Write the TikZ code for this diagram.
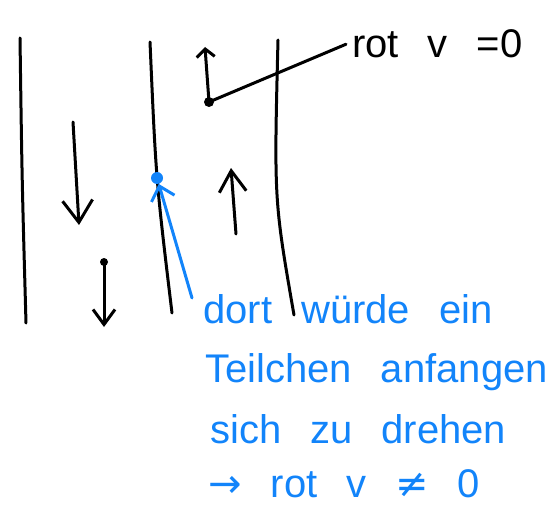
\documentclass[tikz,border=0pt]{standalone}
\usepackage{fontspec}
\setmainfont{Liberation Sans}
\newfontfamily\symfont{DejaVu Sans}
\usetikzlibrary{arrows.meta}
\definecolor{penblue}{RGB}{18,132,250}
\newcommand{\breit}{\spaceskip29pt\relax}
\tikzset{
  stift/.style={line width=3pt, line cap=round, line join=round},
  schrift/.style={anchor=base west, inner sep=0pt,
    font=\fontsize{40}{48}\selectfont, execute at begin node=\breit},
}
\begin{document}
\begin{tikzpicture}[x=1pt, y=-1pt, >={Straight Barb[length=22pt,width=30pt]}]
  \useasboundingbox (0,0) rectangle (559,508);
  % Stromlinien
  \draw[stift] (20,38) .. controls (22,180) .. (26,323);
  \draw[stift] (150,42) .. controls (156,180) .. (172,313);
  \draw[stift] (278,40) .. controls (274,200) .. (294,315);
  % Geschwindigkeiten
  \draw[stift, ->] (73,122) -- (79,225);
  \fill (104,262) circle (4pt);
  \draw[stift, ->, >={Straight Barb[length=15pt,width=22pt]}] (104,262) -- (104,327);
  \draw[stift, ->, >={Straight Barb[length=21pt,width=27pt]}] (236,234) -- (231,168);
  \draw[stift, ->, >={Straight Barb[length=8pt,width=18pt]}] (209,102) -- (205,47);
  % rot v = 0
  \node[schrift] (rotnull) at (352,58) {rot v =0};
  \fill (209,102) circle (5pt);
  \coordinate (ecke) at (209,102);
  \draw[stift] (ecke) -- ([xshift=-6pt]rotnull.west);
  % Teilchen
  \node[circle, fill=penblue, inner sep=0pt, minimum size=12pt] (teilchen) at (157,178) {};
  \node[schrift, penblue] (zeile1) at (203,323) {dort würde ein};
  \node[schrift, penblue] (zeile2) at (205,382) {Teilchen anfangen};
  \node[schrift, penblue] (zeile3) at (210,443) {sich zu drehen};
  \node[schrift, penblue] (zeile4) at (208,497) {{\symfont →} rot v {\symfont ≠} 0};
  \coordinate (zeiger) at (192,298);
  \draw[stift, penblue, ->, >={Straight Barb[length=13pt,width=24pt]}] (zeiger) .. controls (178,250) .. (teilchen);
\end{tikzpicture}
\end{document}
